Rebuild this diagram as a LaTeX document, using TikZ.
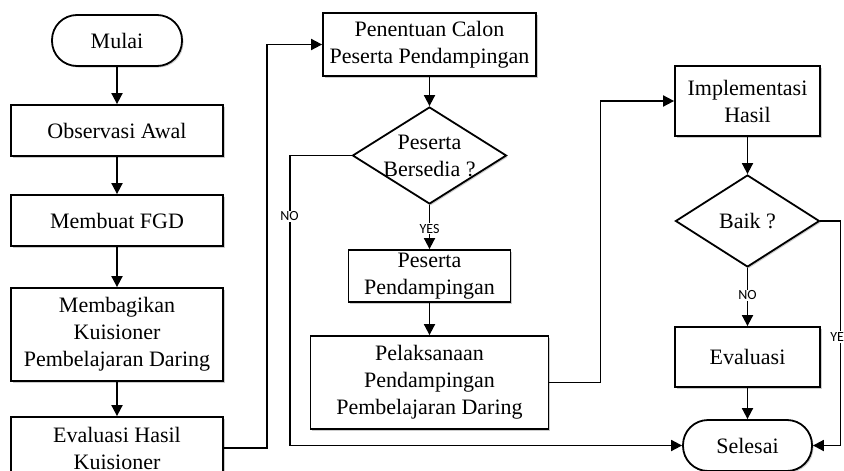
\documentclass[tikz,border=0pt]{standalone}
\usepackage{fontspec}
\setmainfont{Liberation Serif}
\newfontfamily\lblfont{Carlito}
\usetikzlibrary{shapes.geometric,arrows.meta,shadows}
\begin{document}
\begin{tikzpicture}[x=1pt,y=-1pt,
  base/.style={draw=black, line width=1.8pt, fill=white, align=center, inner sep=2pt,
    font=\fontsize{22}{27}\selectfont,
    drop shadow={shadow xshift=1.5pt, shadow yshift=-1.5pt, opacity=0.2, fill=black}},
  proc/.style={base, rectangle},
  term/.style={base, rectangle, rounded corners=25pt},
  dec/.style={base, diamond, inner sep=0pt},
  conn/.style={line width=1.8pt, -{Triangle[length=11pt,width=11pt]}},
  lbl/.style={font=\lblfont\fontsize{14}{14}\selectfont, fill=white, inner sep=1pt}
]
\useasboundingbox (0,0) rectangle (844,471);
\clip (0,0) rectangle (844,471);
\fill[white] (0,0) rectangle (844,471);

% left column
\node[term, minimum width=130pt, minimum height=51pt] (mulai) at (117,40.5) {Mulai};
\node[proc, minimum width=212pt, minimum height=51pt] (obs) at (117,130.5) {Observasi Awal};
\node[proc, minimum width=212pt, minimum height=51pt] (fgd) at (117,220.5) {Membuat FGD};
\node[proc, minimum width=212pt, minimum height=93pt] (bagi) at (117,334.5) {Membagikan\\Kuisioner\\Pembelajaran Daring};
\node[proc, minimum width=212pt, minimum height=62pt] (evh) at (117,448) {Evaluasi Hasil\\Kuisioner};

% middle column
\node[proc, minimum width=213pt, minimum height=63pt] (pen) at (429.5,44.5) {Penentuan Calon\\Peserta Pendampingan};
\node[dec, minimum width=154pt, minimum height=97pt,
  label={[align=center, font=\fontsize{22}{27}\selectfont]center:Peserta\\Bersedia ?}] (ds) at (429.5,155.5) {};
\node[proc, minimum width=162pt, minimum height=52pt] (pp) at (429.5,276) {Peserta\\Pendampingan};
\node[proc, minimum width=238pt, minimum height=93pt] (pel) at (429.5,382.5) {Pelaksanaan\\Pendampingan\\Pembelajaran Daring};

% right column
\node[proc, minimum width=145pt, minimum height=70pt] (imp) at (747.5,101) {Implementasi\\Hasil};
\node[dec, minimum width=144pt, minimum height=92pt,
  label={[font=\fontsize{22}{27}\selectfont]center:Baik ?}] (baik) at (747.5,221) {};
\node[proc, minimum width=145pt, minimum height=60pt] (ev) at (747.5,357) {Evaluasi};
\node[term, minimum width=129pt, minimum height=51pt] (sel) at (747.5,445.5) {Selesai};

% connectors
\draw[conn] (mulai) -- (obs);
\draw[conn] (obs) -- (fgd);
\draw[conn] (fgd) -- (bagi);
\draw[conn] (bagi) -- (evh);
\draw[conn] (evh.east) -- ++(43,0) |- (pen.west);
\draw[conn] (pen) -- (ds);
\draw[conn] (ds.south) -- node[lbl, pos=0.54]{YES} (pp.north);
\draw[conn] (ds.west) -- ++(-62,0) coordinate (nA) -- node[lbl, pos=0.21]{NO} (nA |- sel.west) -- (sel.west);
\draw[conn] (pp) -- (pel);
\draw[conn] (pel.east) -- ++(51,0) |- (imp.west);
\draw[conn] (imp) -- (baik);
\draw[conn] (baik.south) -- node[lbl, pos=0.47]{NO} (ev.north);
\draw[conn] (ev) -- (sel);
\draw[conn] (baik.east) -- ++(20,0) coordinate (yA) -- node[lbl, pos=0.517]{YES} (yA |- sel.east) -- (sel.east);
\end{tikzpicture}
\end{document}
